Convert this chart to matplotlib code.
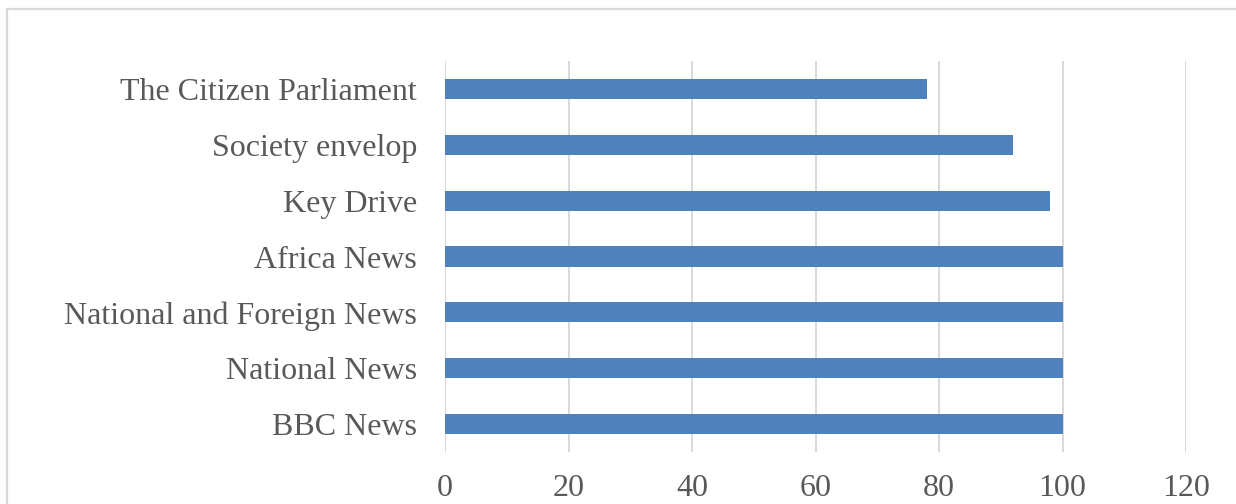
import matplotlib
matplotlib.use('Agg')
import matplotlib.pyplot as plt
from matplotlib.patches import Rectangle

# Data (bottom to top)
categories = ['BBC News', 'National News', 'National and Foreign News',
              'Africa News', 'Key Drive', 'Society envelop', 'The Citizen Parliament']
values = [100, 100, 100, 100, 98, 92, 78]
x_ticks = [0, 20, 40, 60, 80, 100, 120]

BAR_COLOR = '#4F81BD'
GRID_COLOR = '#D9D9D9'
TEXT_COLOR = '#595959'

plt.rcParams['font.family'] = ['Liberation Serif', 'DejaVu Serif']

fig = plt.figure(figsize=(12.36, 5.04), dpi=100)
ax = fig.add_axes([445 / 1236, 52 / 504, 741 / 1236, 391 / 504])

ax.barh(range(len(categories)), values, height=0.36, color=BAR_COLOR, zorder=3)

ax.set_xlim(0, 120)
ax.set_ylim(-0.5, len(categories) - 0.5)
ax.set_xticks(x_ticks)
ax.set_yticks(range(len(categories)))
ax.set_yticklabels(categories)

ax.grid(axis='x', color=GRID_COLOR, linewidth=1.4, zorder=0)
for s in ax.spines.values():
    s.set_visible(False)

ax.tick_params(axis='both', length=0, labelsize=23, colors=TEXT_COLOR)
ax.tick_params(axis='x', pad=16)
ax.tick_params(axis='y', pad=20)

# chart frame (cut off at the bottom/right in the source image)
frame = Rectangle((7 / 1236, -0.2), 1.1, 1 - 9 / 504 + 0.2,
                  transform=fig.transFigure, fill=False,
                  edgecolor=GRID_COLOR, linewidth=1.6, clip_on=False)
fig.patches.append(frame)

fig.savefig('out.png', dpi=100)
